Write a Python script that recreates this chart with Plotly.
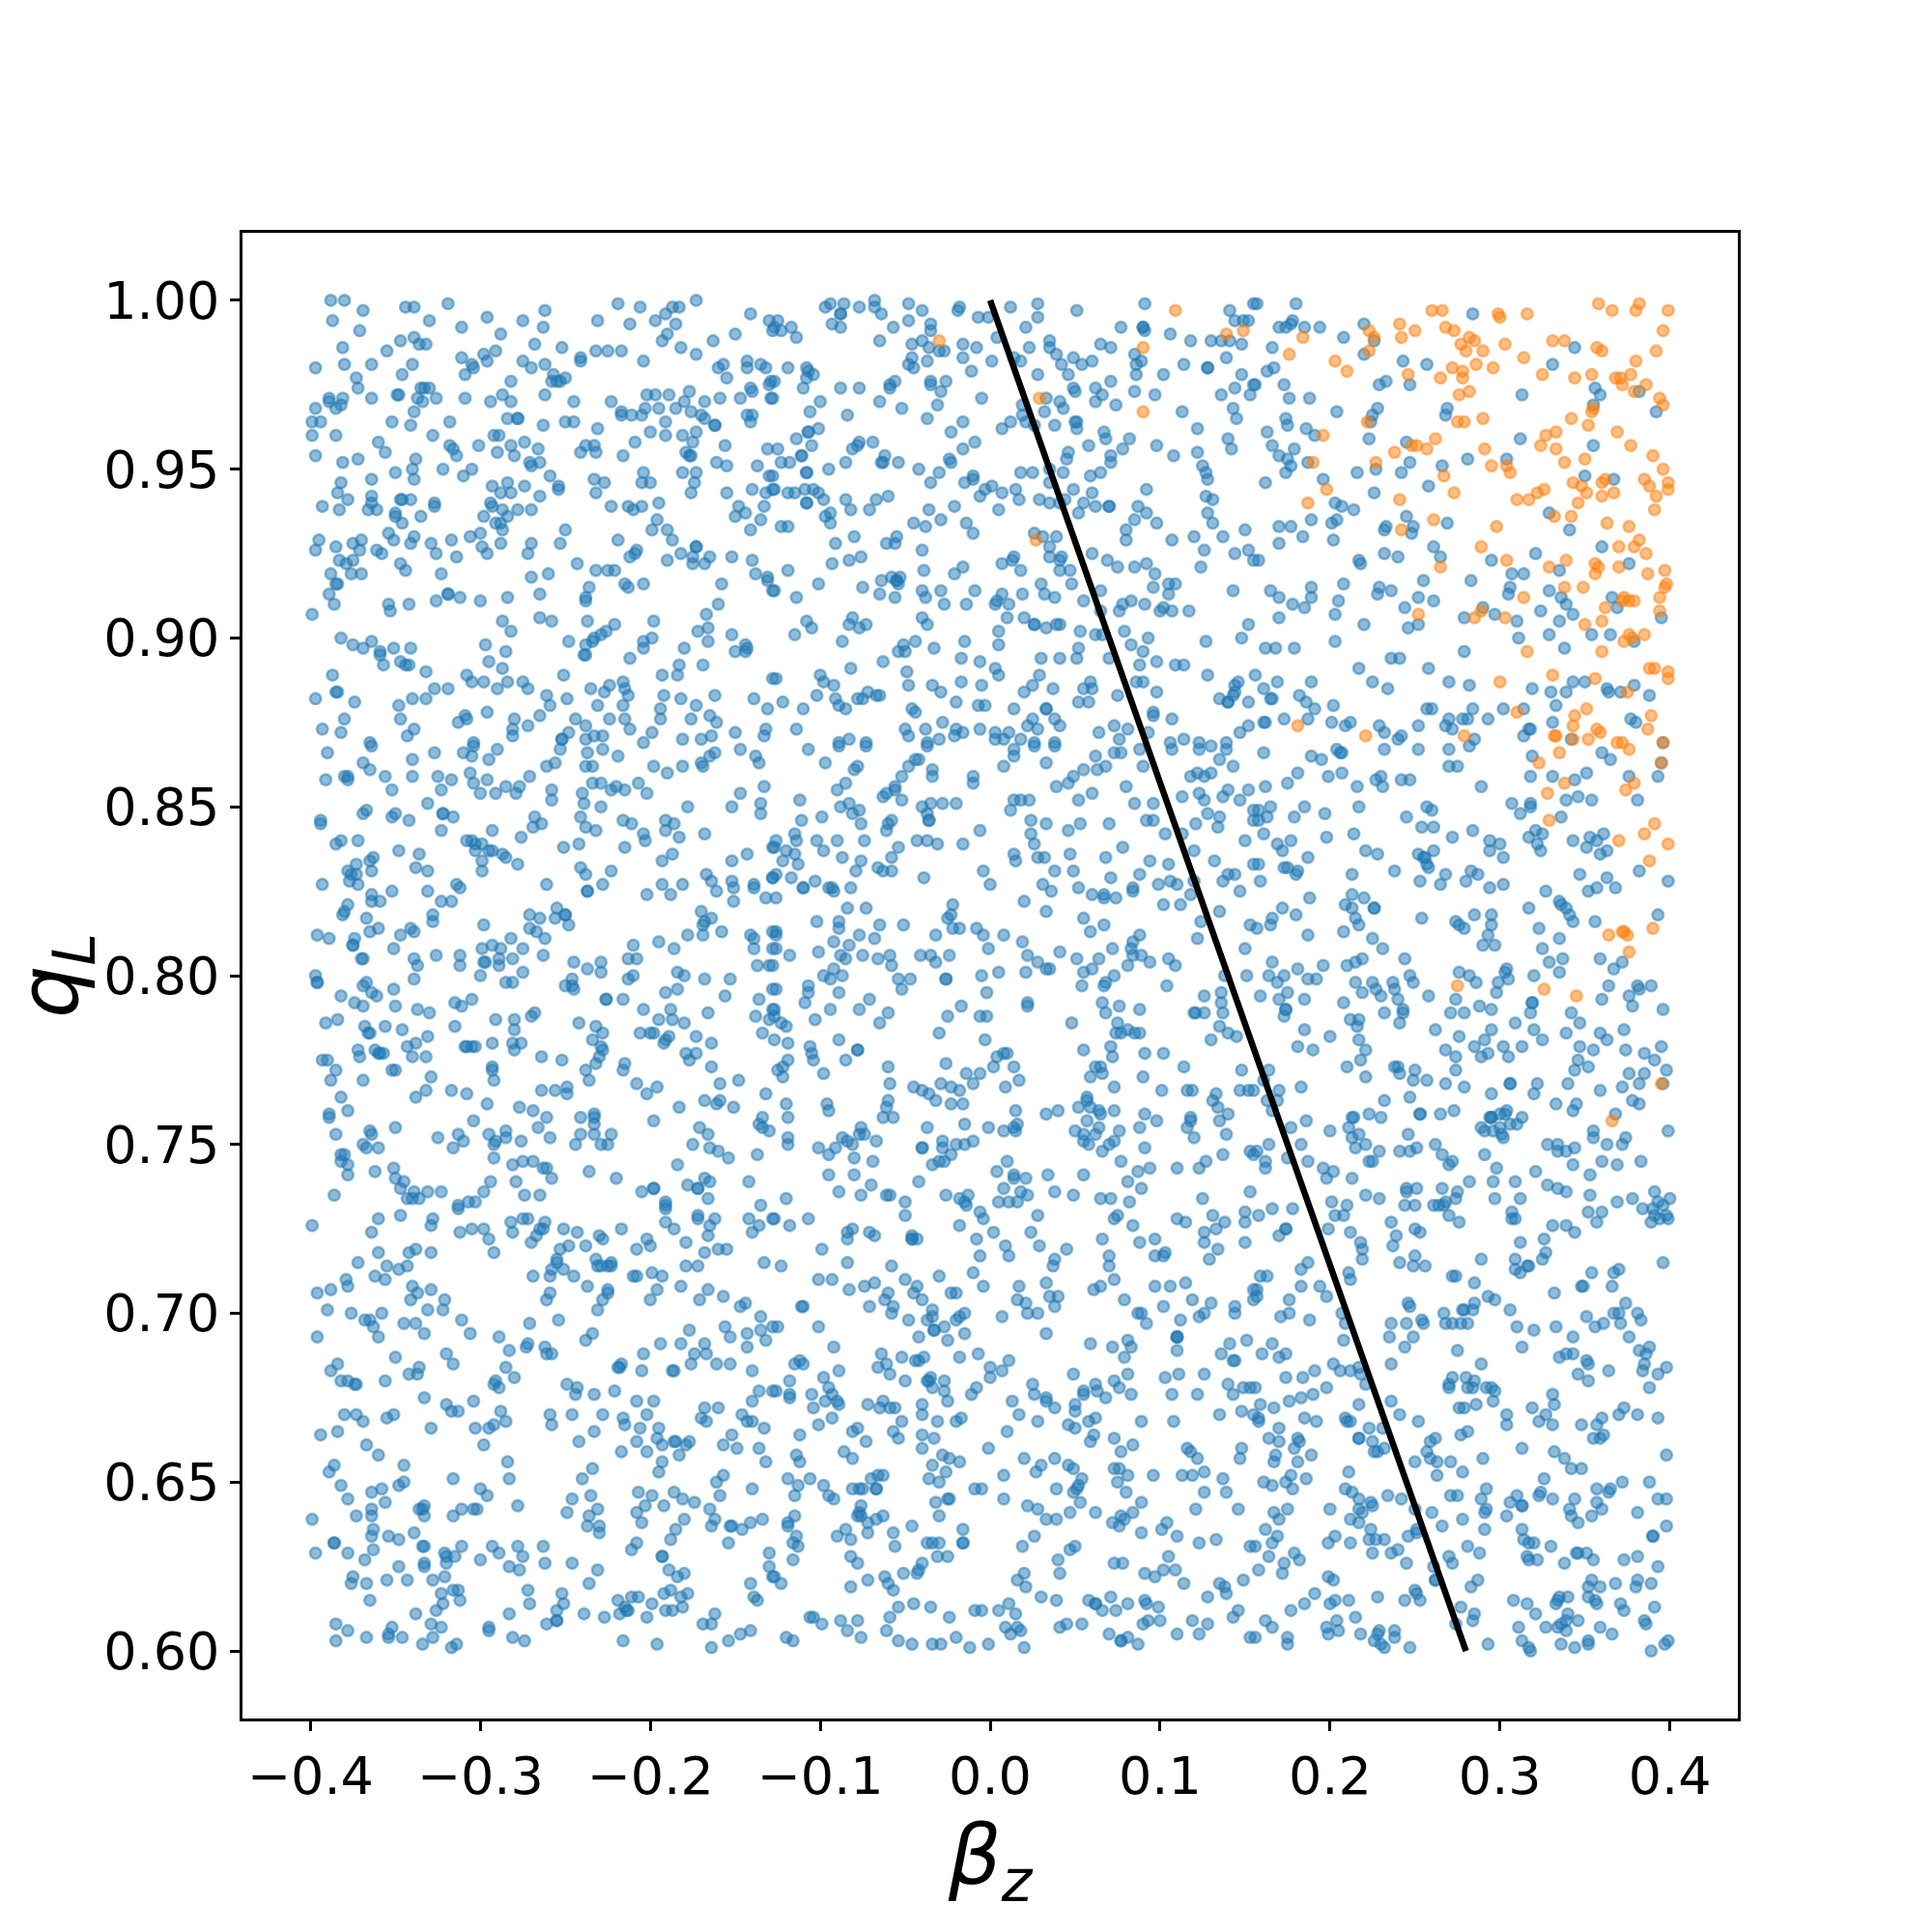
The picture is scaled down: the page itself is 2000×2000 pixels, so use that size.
import plotly.graph_objects as go

orange_pairs = [
-30,988,29,971,27,929,109,997,90,986,90,967,139,990,149,991,366,757,395,768,
184,989,176,984,203,982,210,979,223,991,226,989,223,985,241,993,250,991,242,989,260,997,266,997,268,992,273,991,277,987,282,989,285,988,280,985,290,985,286,981,299,996,300,995,316,996,303,987,314,983,296,980,246,978,265,977,272,980,278,979,278,977,276,972,282,973,275,964,279,964,290,965,222,964,196,960,190,952,198,944,187,940,227,952,238,955,248,957,251,957,257,956,262,959,267,948,273,943,241,941,261,935,242,932,252,907,265,921,289,927,304,923,298,933,291,956,295,951,304,951,306,949,310,941,317,941,322,943,326,944,325,978,331,988,338,988,344,977,354,978,357,986,360,985,358,999,366,997,380,997,382,999,399,997,396,991,392,985,380,982,377,978,368,977,371,977,372,975,386,975,379,973,394,971,396,969,355,968,354,967,342,965,352,963,369,961,377,957,327,960,333,961,324,957,333,956,338,952,350,953,390,954,396,950,385,947,388,945,399,946,399,944,392,942,391,938,343,946,348,945,351,943,360,946,362,947,360,942,367,943,346,940,332,936,342,936,363,934,376,933,370,927,382,929,379,927,386,925,339,923,329,921,356,922,358,921,356,919,370,921,387,919,397,920,398,916,397,915,394,912,338,915,349,915,314,912,373,912,376,911,372,911,379,911,362,909,394,908,285,906,289,908,303,906,350,904,360,905,376,901,378,900,385,901,373,899,316,896,360,896,388,891,391,891,399,890,399,888,331,889,300,887,356,888,375,884,310,878,351,879,344,877,389,877,
181,874,221,871,279,871,333,871,332,871,343,870,343,874,352,870,357,873,359,872,369,869,372,869,376,867,387,873,335,866,396,869,395,863,323,863,338,857,328,854,379,857,374,855,329,846,391,845,385,842,399,839,370,840,388,834,364,812,372,813,373,813,375,812,390,814,376,807,275,797,326,796,345,794,
]

blue_top_right = [
157,999,180,999,284,996,170,992,174,992,178,994,177,993,185,992,194,992,208,989,220,993,226,988,166,986,220,984,344,986,243,982,257,981,163,979,167,980,331,981,173,975,156,975,229,975,233,976,247,975,356,974,359,972,313,972,382,973,176,971,188,971,228,968,269,968,268,966,355,969,392,967,204,967,225,966,224,964,174,965,175,963,186,962,163,961,191,960,223,959,166,957,245,958,312,959,355,957,179,956,170,954,175,953,177,951,187,952,174,949,247,952,266,951,281,953,304,953,227,950,242,949,216,949,162,946,196,947,350,948,367,947,226,943,258,945,203,940,207,939,214,938,189,935,204,935,201,934,170,933,177,933,245,936,233,933,232,932,249,933,248,931,269,934,329,937,341,932,184,930,202,929,170,928,232,925,240,924,261,927,265,924,360,927,158,923,217,923,218,922,295,923,321,925,376,922,335,920,307,919,314,919,283,917,255,917,208,916,229,915,165,914,189,915,236,914,306,915,329,914,170,912,189,912,228,913,252,912,261,911,305,913,336,912,339,910,366,912,205,911,178,910,185,909,244,909,369,909,290,909,203,907,170,906,324,908,343,907,395,906,279,906,297,907,310,905,335,905,220,904,252,904,246,903,329,901,354,901,365,901,311,900,379,899,203,899,162,897,168,897,179,897,279,896,338,897,236,894,241,894,258,891,217,891,156,889,169,887,189,887,225,887,270,887,282,886,343,887,350,887,379,886,161,885,234,885,319,885,330,884,339,884,363,885,364,884,371,884,388,883,182,883,186,881,165,882,166,882,202,880,257,879,260,879,284,879,314,879,333,880,191,879,302,879,
161,875,162,875,173,876,187,876,201,875,209,874,212,875,229,874,232,872,242,871,240,870,252,874,268,874,272,873,270,876,278,876,281,876,293,876,285,870,282,868,318,873,317,873,314,871,331,875,342,870,377,876,380,875,161,866,189,865,195,864,204,867,206,866,207,866,232,867,252,867,270,867,360,866,365,864,319,865,396,869,395,863,270,862,275,862,181,860,175,857,162,856,199,859,207,860,216,856,227,858,230,859,231,856,242,858,247,858,289,856,318,859,331,859,344,858,351,860,376,859,393,859,217,850,197,848,185,850,179,847,165,850,158,849,158,846,163,847,257,850,260,849,245,847,307,851,318,851,318,850,312,848,339,852,346,853,354,852,381,852,336,847,161,842,214,842,198,841,254,844,261,844,272,841,284,843,321,843,325,842,317,841,322,839,324,837,343,840,353,841,351,838,357,840,361,842,363,837,359,836,294,840,300,839,294,837,302,835,169,839,177,840,172,837,187,835,221,837,228,836,261,837,252,836,255,835,256,835,257,833,258,832,158,833,173,832,175,832,181,831,180,830,213,830,238,831,268,830,253,828,265,827,283,831,287,830,280,828,294,826,302,827,347,830,363,829,382,831,399,828,159,828,368,826,352,825,357,826,327,825,213,824,220,823,188,823,209,821,213,820,226,820,226,820,172,820,180,818,335,822,336,821,339,820,341,818,343,816,317,820,295,818,285,818,254,817,274,816,276,815,279,814,295,815,293,812,290,809,297,809,166,817,165,815,157,814,215,817,217,815,208,813,187,812,225,811,231,808,323,814,335,811,325,808,356,816,393,818,244,805,219,805,215,804,210,803,196,803,166,804,181,802,329,804,337,805,335,801,359,805,367,802,372,804,276,801,282,800,286,798,304,802,303,801,305,799,299,798,298,795,320,800,164,800,173,800,169,798,175,795,187,799,192,799,215,798,225,798,237,798,219,795,227,796,230,794,238,796,240,793,247,800,249,798,159,794,258,794,364,797,381,797,382,796,389,797,376,794,360,793,170,793,185,793,208,792,274,793,319,792,
]

blue_top_left = [
-388,1000,-380,1000,-369,997,-387,994,-344,998,-339,998,-319,999,-330,994,-296,995,-311,992,-275,994,-262,997,-263,992,-288,990,-371,991,-231,994,-219,999,-206,998,-212,993,-197,994,-191,996,-187,998,-183,998,-173,1000,-185,993,-141,996,-130,994,-128,991,-150,990,-190,990,-193,988,-163,988,-182,986,-173,984,-339,989,-347,988,-336,987,-332,987,-355,985,-381,986,-268,987,-252,986,-291,985,-298,984,-311,983,-296,982,-241,983,-241,982,-232,985,-225,985,-217,985,-204,982,-397,980,-380,981,-364,981,-340,981,-305,981,-304,980,-309,978,-275,982,-270,980,-262,981,-346,978,-257,978,-250,977,-258,976,-255,976,-253,976,-282,976,-373,977,-372,974,-157,981,-160,980,-155,977,-143,982,-143,980,-135,981,-132,980,-129,976,-130,975,-330,974,-335,974,-333,974,-348,972,-349,972,-364,971,-309,971,-287,972,-262,972,-141,974,-140,973,-202,972,-197,972,-189,972,-177,973,-159,971,-147,971,-129,971,-168,970,-180,970,-389,971,-389,970,-381,971,-382,969,-385,968,-397,968,-337,971,-334,970,-326,971,-294,970,-282,970,-245,970,-223,970,-203,968,-195,968,-185,968,-205,966,-217,967,-217,966,-211,966,-176,967,-170,966,-168,965,-162,963,-162,963,-143,966,-140,966,-141,964,-339,967,-284,965,-278,965,-278,965,-318,964,-352,964,-341,963,-394,964,-399,964,-399,960,-385,960,-263,963,-250,964,-245,964,-231,962,-191,964,-328,960,-292,960,-289,960,-360,958,-200,961,-191,960,-181,960,-173,961,-175,958,-274,958,-397,954,-356,955,-318,957,-316,956,-314,954,-301,957,-282,957,-290,955,-266,956,-238,957,-233,957,-232,955,-241,955,-209,958,-216,954,-156,957,-131,956,-179,955,-177,954,-176,954,-338,953,-372,953,-381,952,-280,954,-271,952,-270,951,-265,952,-340,950,-305,950,-322,950,-161,952,-155,951,-137,951,-350,949,-310,948,-259,948,-204,949,-181,949,-173,949,-130,948,-364,947,-339,947,-382,946,-293,945,-284,946,-274,945,-254,945,-254,944,-233,947,-227,946,-205,946,-200,946,-174,946,-384,943,-288,943,-282,943,-232,943,-176,943,-155,943,-140,944,-132,943,-128,944,-378,941,-364,942,-364,940,-346,941,-347,941,-341,941,-327,940,-327,939,-265,942,-393,939,-383,938,-366,938,-361,938,-294,940,-293,939,-287,938,-278,938,-270,938,-223,939,-213,939,-210,938,-205,939,-195,940,-148,939,-144,937,-150,936,-133,939,-350,937,-350,936,-335,936,-298,936,-284,936,-291,934,-288,934,-346,934,-196,935,-135,935,-354,931,-287,932,-300,931,-250,932,-199,932,-190,932,-141,932,-395,929,-370,929,-375,928,-339,930,-341,928,-351,929,-317,929,-306,930,-270,928,-288,928,-219,929,-187,929,-253,928,-397,926,-385,927,-371,926,-361,926,-358,925,-329,928,-326,925,-299,927,-296,925,-272,925,-208,926,-209,925,-212,924,-173,927,-173,927,-182,925,-165,924,-152,924,-383,923,-375,923,-314,924,-175,924,-190,923,-140,923,-379,922,-347,922,-344,920,-243,922,-168,922,-175,922,-232,920,-225,920,-221,920,-388,919,-376,919,-370,919,-323,919,-260,919,-270,918,-138,919,-131,918,-131,917,-384,916,-385,916,-236,915,-215,916,-213,915,-204,916,-158,916,-128,914,-389,913,-319,913,-319,913,-265,913,-238,912,-238,911,-284,912,-312,912,-326,911,-300,911,-386,910,-354,910,-353,908,-342,910,-160,910,-399,907,-167,907,-265,906,-258,905,-287,905,-237,905,-198,905,-221,904,-282,902,-166,903,-172,902,-226,902,-229,901,-233,900,-152,901,-382,900,-364,899,-375,898,-369,897,-351,897,-341,897,-297,898,-248,899,-234,899,-238,898,-204,899,-199,900,-204,897,-166,899,-144,898,-143,897,-144,896,-150,896,-180,897,-285,896,-359,896,-359,895,-357,892,-239,895,-238,895,-212,894,-347,893,-344,892,-342,892,-295,893,-287,891,-183,892,-169,892,-332,890,-387,889,-308,889,-251,889,-193,889,-184,889,-305,887,-298,887,-284,887,-275,887,-272,885,-319,885,-327,885,-290,885,-385,884,-384,884,-397,882,-374,881,-340,882,-332,882,-348,880,-235,885,-224,886,-227,884,-216,887,-215,885,-213,883,-192,883,-182,882,-162,883,-139,882,-128,888,-261,883,-249,882,-259,880,-231,880,-216,880,-173,880,-194,879,-131,879,-309,877,-308,876,-296,878,-313,875,-265,877,-380,876,-347,876,-244,876,-224,876,-215,876,-194,876,-176,876,-165,877,-161,875,-280,876,-272,874,-281,873,-238,874,-393,873,-382,872,-339,873,-343,871,-212,873,-199,872,-248,872,-150,872,-132,873,-133,871,-281,871,-252,870,-252,870,-238,870,-233,871,-228,871,-181,870,-170,870,-164,871,-204,869,-365,869,-304,869,
]

blue_top_middle = [
-125,994,-127,992,-123,991,-117,992,-114,989,-97,998,-94,999,-86,999,-77,998,-68,1000,-68,998,-64,996,-88,996,-88,996,-93,993,-88,992,-57,992,-48,999,-40,997,-48,994,-35,993,-35,991,-18,998,-19,997,-7,995,-1,995,12,998,28,999,28,995,51,997,91,999,21,992,77,992,90,992,90,992,91,991,106,990,141,997,144,994,149,994,155,999,152,994,-65,988,-46,987,-40,988,-36,986,-30,985,-27,985,-16,987,-8,986,4,989,23,986,35,988,35,986,65,987,71,986,118,988,130,988,136,988,141,988,148,987,39,984,49,983,42,981,54,981,60,982,85,984,89,982,86,981,139,983,-46,983,-37,982,-16,983,1,982,14,983,18,982,-48,981,-45,980,-119,980,-108,980,-107,979,-104,978,-108,977,-110,974,-11,979,28,978,46,978,86,978,102,978,114,981,128,980,128,980,148,978,-127,976,-59,975,-56,976,-59,974,-88,974,-77,974,-35,976,-35,975,-26,976,-29,973,49,974,50,973,62,974,71,976,66,972,85,973,97,972,144,974,155,975,136,972,153,972,-128,971,-100,970,-65,970,-52,968,-31,969,-5,971,19,969,33,971,41,970,43,968,62,970,74,969,143,968,113,967,-106,967,-84,966,32,967,19,966,-37,965,-16,964,12,964,21,964,26,963,51,964,50,964,51,962,145,965,38,963,7,962,-101,962,-107,961,-107,961,-114,959,-23,961,122,962,67,961,68,959,82,959,140,959,-77,958,-69,958,-78,957,-105,957,-9,958,58,957,98,957,142,956,-81,956,-125,956,-16,956,78,956,46,955,122,955,-111,954,-111,954,108,954,71,954,-123,952,-118,952,-85,952,-62,954,-64,952,-63,952,-54,952,-24,953,-23,952,45,953,71,952,125,951,-95,950,-42,950,-30,949,-108,949,-108,949,18,949,25,949,35,950,43,949,65,949,59,948,127,949,128,947,-128,948,-10,948,-10,947,-15,946,-35,946,1,945,-3,944,15,944,35,946,49,944,60,943,92,944,-127,944,-119,943,-115,943,-109,944,-104,944,-101,943,-98,941,-108,940,-108,940,-85,941,-82,938,-67,941,-60,942,-71,938,-6,942,7,943,17,941,29,941,35,940,41,940,44,941,55,940,62,939,70,939,70,939,87,939,92,937,127,942,131,941,-21,939,-36,938,5,938,52,937,128,937,-94,937,-97,936,-94,934,-123,933,-119,933,-29,935,-45,934,-38,933,-14,934,-10,931,85,935,98,934,131,934,80,932,150,932,26,931,31,930,39,930,-80,930,-55,930,-91,928,-61,928,-56,928,80,929,107,929,120,930,137,930,-40,926,35,927,60,925,126,926,144,925,152,926,155,923,-83,923,-76,924,-93,922,14,924,13,923,7,922,35,924,42,924,41,923,69,923,75,921,85,921,92,922,-119,920,-16,921,18,920,41,920,124,921,-39,920,-21,919,47,920,97,919,-58,918,-53,918,-55,917,-55,917,-54,916,-64,917,-101,916,30,916,48,916,96,915,105,916,109,916,-127,914,-75,915,-40,914,-29,914,-9,914,7,913,65,914,143,914,105,913,-114,912,-65,913,-56,912,-38,912,19,913,32,913,38,912,4,911,55,911,83,911,3,910,11,910,-27,910,-14,910,91,910,78,910,76,908,65,908,100,908,102,909,107,908,117,908,-40,906,10,906,20,906,-108,905,-81,906,-83,904,-77,903,-73,904,-105,903,-37,904,26,904,26,904,33,903,39,904,41,904,152,904,53,902,79,902,-115,901,5,902,62,901,66,901,148,900,93,900,-87,899,-51,898,-44,899,-15,899,5,898,83,898,127,899,-54,896,-50,896,-33,897,52,897,90,896,-63,893,-17,894,-6,893,30,894,41,894,51,894,70,894,98,893,109,892,114,892,-82,891,3,891,88,892,-49,890,-100,889,5,889,29,889,128,889,-126,888,-98,887,-92,886,-48,886,-34,886,-17,887,-5,886,-29,884,25,886,37,885,20,884,55,885,59,887,60,885,86,887,90,887,98,884,146,887,144,886,144,884,143,883,75,883,-72,884,-78,882,-75,882,-67,883,-65,883,-102,883,-91,882,-122,881,-110,879,-89,880,-85,879,-20,881,-7,880,-3,880,14,879,52,881,58,881,135,882,140,881,140,881,152,881,-46,879,-44,878,33,879,33,879,96,878,96,877,107,876,25,876,38,876,22,874,41,874,28,873,-114,873,-50,873,-48,871,-38,873,-28,875,-20,873,-21,871,-16,872,-6,873,3,872,11,872,64,872,73,874,81,873,93,872,76,870,147,872,152,874,114,870,-89,869,-83,870,-73,869,-37,869,-30,870,3,870,8,870,18,870,26,869,38,869,106,869,123,869,139,869,
]

blue_mid_left = [
-390,866,-364,868,-327,866,-310,866,-304,868,-305,865,-295,864,-290,867,-340,864,-369,863,-365,861,-253,867,-237,866,-228,867,-219,865,-256,863,-261,862,-234,862,-238,862,-198,862,-190,860,-181,862,-165,865,-162,866,-170,863,-169,862,-147,867,-138,865,-136,863,-391,858,-380,859,-378,859,-378,858,-356,859,-340,859,-325,859,-317,858,-306,860,-304,857,-296,858,-271,859,-323,855,-352,855,-300,854,-291,854,-285,856,-277,856,-279,854,-258,855,-258,852,-240,854,-234,857,-229,857,-223,855,-220,856,-215,855,-207,857,-202,854,-133,856,-147,854,-331,851,-239,851,-229,850,-178,850,-152,850,-135,851,-135,848,-369,848,-367,849,-394,846,-394,845,-352,847,-350,848,-342,846,-322,848,-322,848,-316,847,-268,847,-264,845,-269,844,-241,847,-238,844,-216,846,-211,845,-191,846,-186,845,-323,843,-293,843,-232,843,-191,843,-168,842,-204,842,-203,840,-276,841,-183,841,-382,840,-385,839,-372,840,-308,840,-305,840,-303,839,-299,839,-303,837,-293,837,-295,837,-287,836,-285,835,-278,833,-251,838,-242,839,-215,838,-128,838,-348,837,-336,836,-363,835,-365,834,-299,834,-187,836,-193,834,-143,836,-152,834,-373,833,-378,831,-364,831,-338,832,-331,831,-299,831,-241,832,-238,830,-223,831,-376,830,-373,830,-377,828,-372,827,-167,830,-164,828,-152,828,-128,829,-393,827,-314,827,-312,826,-261,827,-228,827,-193,827,-181,827,-139,827,-139,826,-151,826,-352,825,-331,825,-237,825,-237,825,-202,824,-188,824,-161,825,-132,823,-364,824,-364,822,-359,822,-323,822,-317,822,-151,822,-378,821,-380,819,-381,818,-255,820,-170,819,-328,818,-328,816,-367,817,-271,818,-265,817,-256,817,-250,818,-250,818,-168,816,-164,817,-169,815,-298,815,-248,815,-360,814,-341,814,-339,813,-271,814,-267,813,-365,813,-396,812,-347,812,-389,811,-374,811,-282,811,-262,811,-195,810,-178,812,-169,812,-158,813,-141,812,-139,811,-128,813,-375,809,-375,809,-351,808,-293,809,-299,808,-288,808,-275,808,-210,809,-186,808,-139,808,-128,808,-369,805,-370,805,-339,805,-326,806,-312,806,-312,803,-297,804,-298,804,-289,805,-289,803,-281,805,-263,806,-245,804,-229,804,-213,805,-208,805,-337,803,-237,802,-184,801,-180,800,-137,803,-130,803,-128,803,-397,800,-396,798,-396,798,-275,801,-229,801,-300,800,-210,800,-213,799,-168,799,-153,799,-339,799,-367,798,-369,797,-246,799,-250,797,-246,797,-245,796,-285,798,-281,798,-351,796,-382,794,-364,795,-361,794,-374,792,-216,793,-191,795,-184,796,-156,794,-136,793,-128,796,-305,793,-226,793,-226,793,-369,791,-315,792,-311,791,-350,791,-337,790,-204,790,-188,790,-166,789,-330,789,-138,788,-128,790,-268,789,-270,788,-384,787,-391,786,-291,787,-280,787,-195,787,-187,787,-180,786,-130,787,-242,786,-368,785,-356,785,-232,785,-366,783,-365,783,-346,784,-315,785,-280,784,-228,783,-206,783,-200,783,-198,783,-189,782,-134,783,-331,782,-173,782,-338,780,-343,779,-234,781,-191,781,-192,780,-164,780,-293,780,-281,780,-276,780,-308,779,-305,779,-303,779,-309,779,-229,779,-372,778,-371,776,-362,778,-360,777,-357,777,-359,777,-340,776,-332,776,-280,778,-228,778,-230,776,-179,777,-173,777,-264,776,-393,775,-390,775,-252,775,-232,774,-177,775,-215,774,-164,773,-385,772,-350,772,-352,772,-293,773,-293,772,-238,772,-216,772,-329,770,-388,769,-369,769,-292,769,-236,769,-159,768,-148,769,-208,768,-196,767,-249,767,-332,766,-264,766,-256,766,-317,766,-249,765,-202,765,-132,765,-382,764,-338,764,-308,765,-296,762,-168,763,-161,762,-159,763,-151,761,-277,761,-269,760,-183,761,-389,759,-389,758,-378,760,-261,758,-233,759,-233,758,-233,756,-241,758,-304,757,-198,757,-134,758,-136,756,-134,755,-130,754,-350,755,-266,755,-385,753,-365,754,-364,753,-285,754,-295,753,-285,752,-313,753,-310,751,-325,752,-259,752,-241,753,-233,753,-223,753,-171,755,-166,753,-369,750,-367,749,-360,749,-276,751,-292,750,-291,751,-244,750,-229,750,-225,750,-175,750,-316,749,-165,749,-160,748,-154,746,-137,747,-380,747,-382,747,-382,745,-378,744,-292,746,-275,745,-269,745,-281,744,-263,743,-261,743,-184,744,-362,742,-351,743,-378,741,-236,742,-350,740,-258,740,-220,740,-168,740,-165,739,-142,739,-294,739,-279,739,-345,739,-198,737,-198,737,-178,738,-172,737,-172,737,-205,736,-347,737,-339,736,-331,736,-323,736,-298,736,-274,735,-265,735,-386,735,-343,734,-340,734,-336,734,-166,734,-307,733,-303,733,-313,732,-191,733,-191,732,-135,732,
]

blue_mid_middle = [
-107,867,-89,868,-73,868,-37,868,-97,863,-78,862,-80,861,-42,864,-44,864,-48,862,-52,859,-34,861,-34,859,-85,857,-90,855,-56,856,-61,854,-56,855,-63,853,-52,852,-10,859,-10,857,8,862,14,867,14,865,26,868,38,868,33,863,62,865,73,866,77,866,88,867,90,862,55,861,63,861,68,862,49,859,46,857,39,856,80,856,60,854,52,852,107,867,123,867,130,868,139,867,135,864,143,862,122,860,118,859,130,860,126,859,152,855,140,855,137,853,123,854,113,853,147,852,126,852,-112,852,-88,850,-83,851,-77,849,-81,848,-40,850,-35,851,-28,851,-20,851,-37,848,-36,846,-36,846,-99,847,-111,846,-76,845,-58,846,-60,845,-61,843,14,852,18,852,23,852,12,849,24,846,33,845,46,843,53,845,70,845,85,851,96,851,92,846,96,846,103,842,113,842,121,845,134,844,135,847,128,848,150,840,155,849,155,846,-6,843,-115,842,-114,840,-126,840,-102,840,-90,840,-74,840,-43,840,-37,840,-31,839,-16,839,24,842,26,839,-54,838,-120,837,-98,837,-127,838,120,837,78,838,47,836,68,835,14,836,15,834,28,835,32,835,-115,836,-122,834,-113,833,-87,835,-76,834,-58,835,94,834,132,834,105,833,155,833,-79,831,-66,832,-63,831,-58,831,-117,829,-126,830,-128,829,-39,829,-4,831,38,831,49,831,71,829,88,830,140,830,144,830,137,828,120,828,106,828,110,827,-103,828,-110,826,-110,826,-95,826,-93,826,-92,825,-82,826,0,827,31,827,36,825,52,826,60,824,67,824,67,823,74,823,84,826,84,825,99,827,147,825,118,824,-126,823,-84,820,-73,820,20,822,33,819,102,821,112,821,135,819,-22,821,-23,818,-25,817,-102,816,-89,816,-89,814,-65,815,-51,815,-22,814,-18,814,-8,814,55,817,67,815,124,816,153,815,-126,813,-126,812,-77,812,-92,810,-83,809,-68,811,-32,812,-4,812,8,812,19,810,59,813,88,812,122,811,84,810,83,808,84,806,81,803,-126,808,-118,806,-101,807,-1,808,72,808,150,808,-88,806,-85,805,-75,806,-66,805,-59,806,-41,806,-35,806,-32,804,-24,806,22,806,28,804,41,807,51,805,64,805,89,806,94,804,105,805,109,803,33,802,35,802,-92,802,-58,803,-98,800,-94,799,-87,800,-54,799,-47,799,-26,799,-26,799,-5,800,5,801,21,801,55,801,60,802,73,800,151,800,138,800,68,798,67,797,54,797,104,797,-107,797,-107,795,-126,796,-89,795,-52,796,-2,795,136,795,126,794,136,792,-71,793,-109,792,-94,790,-77,790,-17,791,22,792,22,791,66,792,76,791,88,790,68,789,120,789,121,789,126,789,137,789,-60,789,-25,788,-6,788,-2,788,-103,787,-127,790,-127,788,-123,786,-120,785,-65,786,48,786,75,786,135,785,140,783,145,782,-30,783,74,783,77,783,81,784,85,783,88,783,-127,781,-119,780,-89,781,-3,781,130,781,-106,779,-78,778,-78,778,71,779,55,778,8,777,10,777,4,776,2,773,-105,777,-104,775,72,776,91,777,102,777,-119,775,-85,775,114,773,-26,774,14,773,-60,773,62,773,65,773,66,771,148,772,-14,771,-6,771,-122,773,-125,772,-122,770,-98,771,59,770,90,770,-10,768,17,769,-59,768,-45,767,-40,766,-36,765,-32,763,-29,768,-23,767,-18,766,9,767,73,767,101,766,116,766,119,766,133,765,147,766,152,766,155,766,-60,763,-120,762,-96,762,-95,760,-61,761,-23,762,-16,762,57,764,57,763,131,763,134,761,15,760,52,761,59,761,64,760,65,759,73,760,33,759,40,760,91,759,118,758,118,757,140,759,-119,758,-63,758,-57,758,57,757,98,757,-15,756,16,756,14,755,15,754,-37,755,-1,755,8,754,50,754,55,753,62,753,64,755,76,754,88,755,116,755,135,757,139,753,-76,755,-77,753,-74,753,-87,752,-84,751,-67,751,-119,752,-119,750,-101,749,-95,747,-91,749,-81,750,-80,746,-40,749,-40,749,-28,751,-28,749,-20,750,-15,750,-10,751,-23,747,55,751,58,750,66,748,70,750,73,751,91,749,120,752,137,747,153,748,155,747,-69,745,-27,745,-30,745,-34,744,10,745,77,745,94,743,87,742,110,743,123,743,127,745,4,742,-95,741,-80,741,14,741,14,740,21,740,34,741,55,741,-70,738,-42,739,81,739,8,737,18,736,22,735,89,737,-89,736,-76,735,-61,735,-59,735,-26,735,-18,734,-13,735,-15,733,-14,732,38,736,49,735,65,734,71,734,82,733,125,734,153,736,-120,734,-50,733,5,733,11,733,16,733,
]

blue_low_left = [
-399,726,-360,728,-347,729,-328,728,-329,726,-364,724,-313,731,-312,724,-305,725,-298,725,-295,722,-292,718,-282,727,-281,724,-275,728,-272,728,-262,727,-265,725,-263,725,-267,723,-270,721,-251,725,-243,724,-230,723,-228,722,-217,725,-191,727,-191,731,-186,725,-172,729,-172,728,-162,728,-165,726,-166,723,-142,728,-136,726,-140,724,-128,728,-202,722,-200,720,-208,719,-238,720,-248,720,-253,719,-179,721,-160,719,-155,719,-168,718,-329,718,-338,719,-342,718,-360,718,-372,715,-343,714,-355,714,-348,713,-362,711,-356,710,-255,716,-255,715,-258,713,-251,713,-232,716,-231,714,-229,714,-225,714,-223,714,-223,715,-269,711,-259,711,-245,711,-210,711,-208,711,-199,712,-193,711,-179,714,-172,714,-133,715,-379,710,-378,708,-396,706,-388,707,-340,708,-337,706,-341,704,-329,707,-321,704,-322,701,-237,708,-225,707,-225,706,-228,704,-231,701,-259,706,-261,704,-196,707,-200,704,-182,708,-166,707,-171,704,-157,705,-144,703,-147,702,-390,701,-376,700,-368,698,-365,698,-363,696,-358,700,-331,701,-345,697,-338,697,-333,694,-396,693,-360,693,-311,698,-306,694,-271,697,-254,698,-135,699,-156,696,-153,693,-143,694,-135,695,-132,692,-177,695,-128,696,-289,693,-234,694,-238,692,-272,691,-273,690,-283,689,-262,690,-261,688,-258,688,-194,691,-182,691,-168,691,-174,688,-167,688,-143,690,-350,687,-320,688,-316,685,-204,688,-384,685,-388,683,-382,680,-378,680,-374,679,-373,679,-356,680,-342,682,-336,684,-337,682,-285,684,-280,681,-217,685,-218,684,-219,684,-205,683,-186,683,-187,683,-176,685,-161,685,-153,685,-140,683,-291,680,-292,679,-289,678,-249,679,-243,678,-244,676,-233,676,-221,677,-136,677,-140,674,-128,677,-333,675,-304,674,-320,673,-317,671,-313,671,-208,674,-198,674,-380,670,-373,670,-369,668,-355,669,-351,670,-288,671,-285,668,-259,670,-258,667,-246,670,-228,670,-216,669,-215,667,-202,670,-168,672,-160,672,-170,669,-167,668,-146,670,-143,668,-140,668,-394,664,-384,665,-329,666,-303,666,-295,666,-292,667,-233,665,-206,666,-195,666,-196,663,-133,666,-152,664,-367,661,-360,658,-298,661,-242,662,-208,662,-193,661,-186,662,-185,662,-177,662,-179,661,-217,659,-202,659,-183,658,-157,661,-149,660,-136,660,-386,655,-389,653,-345,655,-284,656,-193,656,-195,653,-234,654,-240,651,-132,656,-316,651,-283,651,-382,649,-348,649,-345,650,-157,652,-161,650,-300,648,-296,646,-364,647,-358,648,-140,648,-207,647,-199,646,-186,647,-181,645,-174,644,-159,646,-235,646,-378,645,-356,644,-246,645,-333,643,-336,642,-334,642,-333,640,-364,642,-364,640,-311,642,-316,640,-302,642,-304,642,-278,643,-203,643,-208,641,-192,643,-231,642,-236,640,-249,641,-165,642,-373,640,-162,639,-164,637,-399,639,-180,639,-205,638,-185,636,-188,633,-237,637,-230,637,-230,635,-152,637,-153,637,-146,636,-141,638,-134,639,-363,636,-364,634,-354,634,-348,633,-339,635,-386,632,-386,632,-154,632,-334,631,-333,631,-397,629,-378,629,-363,630,-368,627,-321,629,-320,628,-315,628,-311,631,-320,626,-333,626,-333,625,-348,625,-300,627,-293,631,-289,629,-278,631,-275,628,-263,631,-262,626,-246,626,-208,632,-211,630,-193,628,-193,628,-130,629,-130,625,-189,624,-180,623,-184,622,-283,625,-277,624,-231,624,-128,622,-375,622,-376,620,-367,620,-355,621,-343,621,-328,621,-321,622,-236,620,-141,620,-272,618,-316,618,-313,618,-312,615,-323,617,-365,615,-252,617,-188,618,-192,617,-178,617,-182,616,-139,616,-137,615,-219,615,-211,616,-207,616,-199,614,-215,613,-213,612,-214,612,-218,611,-191,612,-187,612,-181,613,-322,614,-326,612,-271,614,-251,614,-255,612,-283,611,-239,611,-227,610,-202,610,-162,611,-338,611,-255,609,-255,609,-261,608,-385,608,-329,608,-378,606,-323,607,-352,607,-354,605,-354,604,-346,604,-367,604,-385,603,-328,604,-334,602,-317,601,-314,602,-295,607,-295,606,-281,604,-274,603,-216,603,-196,602,-169,608,-164,608,-164,601,-154,603,-147,605,-141,606,
]

blue_low_middle = [
-127,728,-118,726,-107,728,-81,725,-84,724,-84,722,-71,724,-68,723,-50,729,-46,723,-46,722,-46,722,-43,722,-18,726,-6,730,-4,728,-8,722,2,724,28,729,24,724,9,720,29,720,11,717,-6,717,45,719,38,716,37,714,75,729,73,728,84,726,66,722,88,721,97,722,110,728,115,727,131,729,138,727,133,725,126,724,126,721,150,730,150,727,150,721,134,719,129,716,103,718,102,717,97,717,70,717,70,714,-99,719,-123,714,-84,715,-58,714,-101,710,-93,710,-83,707,-74,708,-68,709,-50,710,-43,708,-30,711,-10,712,-4,708,-60,706,-45,706,-40,704,-23,706,-20,706,17,708,33,709,35,705,40,705,73,710,61,707,65,708,97,708,106,708,115,709,155,707,155,704,-111,702,-110,702,-62,704,-57,702,-71,702,16,704,21,703,38,702,79,704,102,702,119,704,130,703,144,702,-58,700,-48,698,-34,701,-37,698,-34,699,-15,700,-18,699,-20,698,7,699,22,700,28,700,87,700,89,700,92,697,112,698,126,700,123,699,144,700,-125,696,-101,696,-27,696,-42,693,-33,695,-33,695,-15,694,-25,692,33,694,110,693,110,693,110,693,81,692,-92,690,59,691,72,690,83,690,79,687,110,689,141,691,151,692,-64,688,-61,685,-66,684,-52,687,-44,686,-42,686,-39,687,-18,687,-7,688,11,686,0,684,-112,686,-115,685,-110,685,136,688,144,686,143,686,-89,683,-98,681,-59,682,7,683,0,681,49,682,81,682,103,681,111,682,126,682,-50,680,-36,680,-35,681,-37,680,-27,680,-118,680,25,679,73,680,76,678,62,679,63,677,140,679,149,678,153,678,
-95,678,-126,677,-118,676,-118,675,-105,676,-93,676,-90,674,-89,673,-97,674,-104,672,-34,678,-27,677,-8,678,-11,676,26,676,33,675,33,674,55,677,55,676,68,675,83,676,107,676,122,676,143,676,13,674,-63,674,-72,673,-65,672,-59,672,-56,672,-40,673,-25,674,38,672,50,673,50,671,-40,670,-93,669,-101,667,135,670,148,671,155,670,17,670,108,668,89,668,28,668,62,669,58,668,46,667,50,666,-17,669,-20,668,-31,668,-52,668,-78,666,-81,665,-57,665,10,665,61,664,59,662,-112,664,-40,664,-33,663,-54,663,-73,662,-40,660,73,663,84,661,-1,660,77,659,-86,659,-81,657,116,660,118,659,148,660,147,657,122,657,-114,658,-112,656,20,657,-28,658,-24,657,-18,656,38,657,30,655,27,653,46,655,49,654,54,651,-34,655,-26,653,73,654,76,654,81,652,126,653,96,652,113,652,119,652,137,651,
-119,651,-106,651,-70,651,-66,652,-63,652,-36,651,-30,650,8,652,-98,649,-113,649,-81,648,-77,648,-75,648,-67,648,-67,648,-9,648,-5,648,39,648,52,649,51,648,49,647,75,650,80,647,126,647,139,647,-115,646,-95,646,-92,645,8,645,-25,645,-24,645,-32,644,53,644,89,644,22,643,28,642,121,642,146,642,-76,643,-77,641,-78,640,-76,640,-115,640,47,641,62,641,77,640,79,639,84,641,-30,640,-63,640,-67,639,-72,638,33,639,39,639,72,638,76,637,-119,638,-119,637,104,638,101,636,-46,637,-85,636,89,635,-16,636,-57,635,-72,635,26,634,110,634,133,633,123,632,-114,634,-116,632,-113,631,-90,634,-82,633,-56,631,-37,632,-34,632,-30,632,-16,632,-16,632,19,631,47,630,50,631,153,631,-116,627,-82,628,-78,626,-31,628,-25,628,40,627,73,626,78,626,105,628,-40,626,-42,624,-43,623,-51,623,41,623,20,623,16,621,102,624,109,624,91,623,97,622,-62,622,-60,620,-57,618,-72,621,-82,619,149,621,114,620,135,620,138,619,139,617,-123,620,-127,622,21,619,30,616,39,615,128,616,58,615,62,614,62,614,71,616,81,614,91,615,92,614,99,613,66,612,74,612,-45,614,-35,613,-54,613,11,614,5,612,15,611,-9,612,-5,612,146,612,143,610,-24,610,-59,610,-104,610,-106,610,-99,608,-88,609,-78,609,93,609,90,608,100,609,54,608,45,608,41,607,119,609,128,608,-61,606,-84,606,-76,604,-120,604,-116,603,9,607,12,605,16,607,18,606,70,605,81,604,77,603,77,603,87,602,110,605,123,605,153,604,-54,603,-46,602,-34,602,-29,602,-20,604,-12,601,-1,602,20,601,
]

blue_low_right = [
174,790,174,790,173,788,232,789,243,790,243,789,241,786,212,787,217,787,216,785,271,789,279,789,288,791,295,790,318,789,319,792,342,789,347,786,378,791,396,790,309,786,295,784,185,784,200,782,262,784,320,784,325,781,276,782,339,783,359,783,363,781,373,784,217,781,221,778,218,775,181,779,190,778,291,781,285,779,302,779,305,776,313,779,268,778,274,776,289,776,293,777,347,779,355,778,374,778,385,777,395,779,391,775,346,775,344,772,352,773,210,773,221,770,238,773,240,773,241,771,250,772,249,769,257,769,274,772,398,772,183,767,170,766,164,772,161,769,268,768,279,767,306,768,306,768,322,768,320,765,295,765,340,768,359,766,372,767,376,771,385,771,382,768,396,768,247,764,232,763,378,763,382,762,163,763,166,760,169,763,214,758,223,759,230,758,253,759,253,759,265,759,273,760,333,762,345,762,343,760,368,759,294,758,295,758,300,759,303,759,304,760,313,758,295,758,306,756,310,756,289,755,291,754,296,754,300,755,301,753,302,752,186,757,177,755,200,754,211,755,213,758,213,752,217,753,221,750,215,749,246,753,399,754,355,754,355,752,374,752,372,750,363,750,164,750,157,748,183,750,262,750,328,750,334,750,334,748,339,748,344,749,229,748,241,748,247,748,251,749,266,747,272,745,270,744,291,747,187,745,175,746,162,745,162,743,223,745,225,745,360,745,369,744,383,745,343,744,353,741,298,743,321,742,196,743,202,742,198,740,213,740,282,739,296,739,309,739,328,738,334,737,339,736,245,737,245,736,251,737,266,737,275,736,391,736,221,735,229,734,353,735,378,734,400,734,297,734,312,734,201,733,210,732,369,733,244,732,250,732,268,733,274,734,261,732,264,732,267,732,270,729,276,727,178,731,166,731,158,729,390,731,396,732,393,733,384,731,391,729,398,729,394,728,399,728,389,727,352,730,360,730,357,727,307,730,307,728,309,728,203,729,208,729,236,727,199,725,250,725,253,724,331,726,339,726,344,724,174,725,174,725,170,723,212,724,239,723,237,720,326,722,312,721,218,721,219,719,219,716,327,718,325,716,289,716,309,716,317,714,316,714,309,713,312,712,250,717,241,715,249,714,256,714,396,715,354,712,370,713,367,712,187,715,183,713,211,712,212,710,274,711,272,711,285,709,159,711,163,711,183,708,194,708,198,705,349,708,348,708,366,708,332,706,157,707,157,705,293,705,297,704,176,704,285,703,374,703,246,703,247,702,306,701,370,700,367,700,381,700,383,698,278,701,279,701,284,701,267,700,351,699,171,699,176,700,207,700,361,697,356,696,371,697,188,698,209,697,236,697,245,697,254,698,255,697,268,697,272,697,277,697,281,697,310,696,320,695,333,696,
166,691,160,688,170,687,174,688,208,692,235,693,249,693,244,690,275,689,313,690,343,693,376,693,382,689,388,690,386,688,335,687,339,688,343,688,351,686,352,685,236,685,289,685,385,685,384,683,398,684,364,683,346,682,352,680,393,682,388,678,191,683,202,685,206,683,212,683,217,684,218,682,174,681,184,681,221,679,272,681,270,679,270,678,280,681,281,678,285,680,284,678,292,678,295,678,297,677,198,678,190,676,183,675,176,674,156,678,296,674,331,676,332,673,236,674,217,673,159,673,167,672,276,672,279,672,286,673,319,672,327,670,323,668,304,670,304,667,373,672,370,670,381,670,393,669,241,670,252,668,158,669,158,668,185,669,192,668,209,669,210,668,212,668,331,667,348,667,360,669,357,667,223,666,231,666,170,666,355,663,359,663,361,664,277,664,281,665,181,663,182,662,179,660,164,663,170,662,217,663,217,663,225,662,262,663,259,662,313,660,332,659,226,659,228,659,232,660,257,659,259,657,263,656,189,658,168,658,167,656,338,657,398,658,181,656,290,657,250,656,271,656,342,654,348,654,278,653,263,652,211,653,326,651,177,652,186,651,161,650,166,649,174,650,178,648,372,650,388,650,357,648,365,648,364,647,209,648,213,647,292,648,324,647,323,646,331,645,217,645,224,644,225,643,234,646,242,645,271,646,275,646,310,646,306,644,313,643,313,643,289,645,344,645,357,644,360,642,393,645,398,645,175,642,200,642,217,642,219,641,250,642,292,642,291,641,260,641,341,642,342,640,381,641,167,641,170,639,304,640,212,639,217,638,278,639,354,640,346,638,398,637,251,636,251,635,246,634,266,637,162,636,224,636,291,636,313,636,314,633,169,634,166,632,203,634,390,634,390,634,223,633,227,633,232,633,212,632,199,632,317,632,320,632,330,631,281,631,156,631,240,630,236,629,225,629,288,629,345,629,346,629,351,629,164,628,179,629,182,627,270,628,272,626,316,628,317,627,322,627,355,627,373,627,381,628,245,626,338,626,173,626,172,623,158,624,393,625,261,625,262,621,262,621,199,622,202,621,287,621,283,619,368,620,381,621,380,619,389,620,354,621,352,619,359,619,352,616,356,615,357,614,191,617,250,618,251,617,253,615,244,615,228,616,211,615,203,615,200,614,185,614,177,612,308,615,316,614,321,611,335,616,334,615,333,614,340,616,371,614,373,612,391,613,277,613,285,611,284,609,340,611,339,609,346,609,162,609,166,607,215,610,204,609,385,609,386,608,198,607,199,605,205,606,274,608,311,607,327,607,334,607,336,608,339,606,359,607,366,605,238,606,238,604,229,606,228,605,218,605,175,604,175,602,156,604,226,603,230,602,232,601,352,603,352,602,399,603,397,602,293,602,313,603,317,601,318,600,336,602,344,601,389,600,247,601,
]

orange_x = [v / 1000 for v in orange_pairs[0::2]]
orange_y = [v / 1000 for v in orange_pairs[1::2]]
blue_all = (blue_top_right + blue_top_left + blue_top_middle + blue_mid_left
            + blue_mid_middle + blue_low_left + blue_low_middle + blue_low_right)
blue_x = [v / 1000 for v in blue_all[0::2]]
blue_y = [v / 1000 for v in blue_all[1::2]]
line_x = [0.0, 0.28]
line_y = [1.0, 0.6]
x_ticks = [-0.4, -0.3, -0.2, -0.1, 0.0, 0.1, 0.2, 0.3, 0.4]
x_labels = ["\u22120.4", "\u22120.3", "\u22120.2", "\u22120.1", "0.0", "0.1", "0.2", "0.3", "0.4"]
y_ticks = [0.60, 0.65, 0.70, 0.75, 0.80, 0.85, 0.90, 0.95, 1.00]
y_labels = ["0.60", "0.65", "0.70", "0.75", "0.80", "0.85", "0.90", "0.95", "1.00"]

fig = go.Figure()
fig.add_trace(go.Scatter(x=blue_x, y=blue_y, mode="markers", hoverinfo="skip",
    marker=dict(color="rgba(31,119,180,0.5)", size=11.5, line=dict(color="rgba(31,119,180,0.5)", width=2.5))))
fig.add_trace(go.Scatter(x=orange_x, y=orange_y, mode="markers", hoverinfo="skip",
    marker=dict(color="rgba(255,127,14,0.5)", size=11.5, line=dict(color="rgba(255,127,14,0.5)", width=2.5))))
fig.add_trace(go.Scatter(x=line_x, y=line_y, mode="lines", line=dict(color="black", width=6.5)))

axis = dict(showgrid=False, zeroline=False, showline=True, mirror=True, linecolor="black", linewidth=2.5,
            ticks="outside", ticklen=10, tickwidth=2.5, tickcolor="black",
            tickfont=dict(family="DejaVu Sans", size=54, color="black"))
fig.update_layout(width=2000, height=2000, autosize=False, showlegend=False,
    paper_bgcolor="white", plot_bgcolor="white",
    margin=dict(l=251, r=201, t=241, b=221, autoexpand=False),
    xaxis=dict(axis, range=[-0.44, 0.44], tickvals=x_ticks, ticktext=x_labels,
               title=dict(text="<i>\u03b2<sub>z</sub></i>", font=dict(family="DejaVu Sans", size=86, color="black"), standoff=14)),
    yaxis=dict(axis, range=[0.58, 1.02], tickvals=y_ticks, ticktext=y_labels,
               title=dict(text="<i>q<sub>L</sub></i>", font=dict(family="DejaVu Sans", size=86, color="black"), standoff=22)))
fig.write_html("out.html", config={"displayModeBar": False}, post_script="document.body.style.margin='0';")
